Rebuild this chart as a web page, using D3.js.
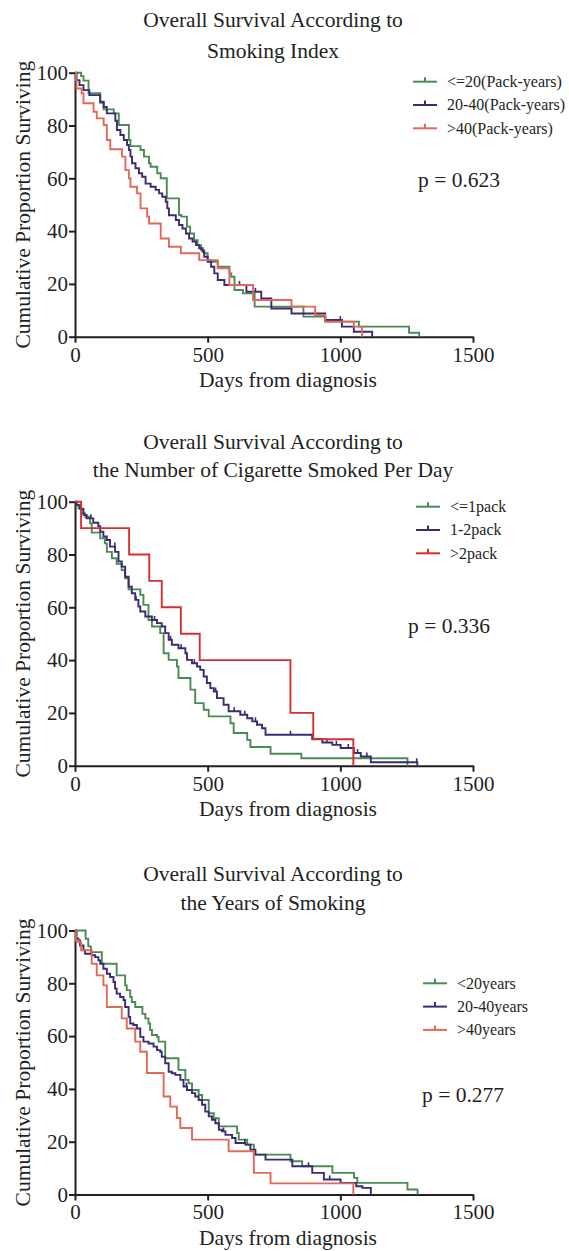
<!DOCTYPE html>
<html>
<head>
<meta charset="utf-8">
<script src="https://cdn.jsdelivr.net/npm/d3@7"></script>
<style>
body { margin: 0; background: #fff; }
text { font-family: "Liberation Serif", "Times New Roman", serif; fill: #231f20; }
</style>
</head>
<body>
<svg id="chart" width="569" height="1251"></svg>
<script>
// ticks
const xTicks = [0, 500, 1000, 1500];
const yTicks = [0, 20, 40, 60, 80, 100];

// panel 1: smoking index, [day, survival after drop]
const idxLow = [[23,98.7],[32,97],[51,92.2],[95,88.6],[108,86.1],[146,84.6],[165,80.2],[203,74.5],[209,72.2],[247,70.7],[260,68.2],[279,65.7],[285,64.4],[310,61.9],[323,60],[346,52.4],[392,46.1],[401,45.5],[422,41.7],[434,39.1],[449,36.6],[462,34.7],[475,32.8],[487,31.6],[500,29],[513,28.4],[538,26.5],[582,24],[589,22.7],[601,17.7],[633,16.4],[677,11.4],[861,7.6],[943,5.7],[1070,3.8],[1259,1.5],[1297,0]];
const idxMid = [[6,97.2],[17,95.3],[32,93.4],[54,91.5],[95,89],[108,87],[120,84.6],[152,81.8],[158,78.3],[171,76.4],[184,74.5],[196,72.6],[203,70.7],[209,68.2],[215,65.7],[228,63.8],[241,61.9],[253,60.6],[266,58],[285,56.8],[304,55.6],[317,54.3],[329,53],[342,51.1],[348,48.6],[354,46],[380,44.2],[392,42.3],[405,41],[418,39.1],[430,37.2],[443,36],[456,34.7],[468,33.5],[481,32.2],[487,30.3],[500,28.4],[513,26.5],[525,24],[538,21.5],[563,19.6],[646,17],[702,14.5],[740,10.7],[816,8.8],[943,6.3],[1006,3.8],[1051,1.9],[1120,0]];
const idxHigh = [[4,97.2],[6,94],[25,92.2],[32,88.4],[70,85.2],[82,82.7],[108,80.2],[120,74.5],[133,71],[177,68.2],[190,63.1],[203,60],[209,56.8],[234,54.3],[247,48.6],[272,45.5],[279,42.9],[323,37.2],[354,34.1],[399,31.6],[468,29],[538,25.9],[582,19.6],[671,13.9],[816,11.4],[905,8.2],[943,5.7],[1051,3.8],[1082,0]];
const idxMidCens = [620, 680, 1000];

// panel 2: cigarettes per day
const cigLow = [[6,98.7],[13,97.5],[25,95.6],[38,94.3],[57,91.8],[63,88.3],[95,86.1],[113,84.2],[120,81],[139,78.6],[157,76.5],[176,74.1],[189,71],[202,66.8],[246,64.7],[258,60.9],[277,55.2],[290,52.7],[321,50.2],[334,42.6],[353,40.1],[384,37.6],[390,33.2],[435,28.8],[453,23.7],[485,21.2],[504,18.7],[586,16.1],[598,12.4],[649,9.8],[661,7.1],[737,4.5],[853,2.8],[1253,0]];
const cigMid = [[6,98.7],[19,97.3],[32,95],[44,93.7],[69,92],[88,90.7],[95,88.6],[107,86.8],[120,85.5],[132,83],[151,81],[164,77.4],[176,75.4],[189,71.6],[202,67.8],[214,65.3],[227,62.8],[239,60.3],[246,58.4],[265,56.5],[290,55.2],[309,54],[327,52.7],[340,50.2],[353,47.7],[365,45.8],[390,44.5],[416,42.6],[422,40.1],[441,38.8],[460,37.6],[472,36.3],[485,33.8],[497,31.3],[510,29.4],[523,28.1],[535,25.6],[560,23.1],[579,20.6],[623,19.3],[649,18],[668,16.8],[686,15.5],[705,14.2],[718,11.7],[894,10.1],[932,8.8],[970,7.9],[1001,6.7],[1051,4.8],[1077,3.5],[1115,1.3],[1290,0]];
const cigHigh = [[23,90],[204,80],[280,70],[327,60],[399,50],[470,40],[812,20],[898,10],[1049,0]];
const cigMidCens = [60, 150, 230, 300, 360, 400, 450, 530, 600, 640, 680, 812, 950, 985, 1030, 1065, 1100, 1288];

// panel 3: years of smoking
const yrsLow = [[40,96.9],[50,94],[60,91.8],[101,87.4],[157,83],[189,79.2],[195,77.4],[208,74.8],[214,72.9],[227,71],[254,68.4],[265,66.7],[277,64.8],[283,62.3],[290,60.4],[309,59.7],[315,57.9],[340,51.6],[390,47.2],[416,43.4],[428,42.1],[441,39.6],[466,37.7],[479,35.8],[504,30.8],[523,28.9],[542,25.8],[611,23.3],[617,20.8],[649,18.9],[674,15.1],[812,12.6],[856,10.7],[970,8.2],[1052,6.3],[1064,4.4],[1253,1.9],[1291,0]];
const yrsMid = [[4,99.4],[6,96.9],[13,96.2],[19,94.3],[32,92.5],[38,91.2],[63,90.6],[76,89.9],[88,88.7],[95,87.4],[107,85.5],[120,83.6],[132,82.4],[145,80.5],[151,78],[157,76.1],[170,74.8],[183,73.6],[189,71],[202,67.3],[208,64.8],[220,64.2],[233,62.9],[246,59.7],[258,57.9],[277,57.2],[296,56],[309,54.7],[321,54.1],[327,52.2],[340,49.7],[353,46.5],[365,45.9],[378,45.3],[397,43.4],[409,40.9],[422,39.6],[441,38.4],[453,37.1],[466,35.8],[479,34],[491,31.4],[504,29.6],[516,28.3],[529,27],[542,24.5],[554,23.9],[567,22.6],[592,21.4],[605,19.5],[642,18.9],[661,17],[680,15.1],[718,13.2],[819,10.7],[894,8.2],[938,5.7],[1001,4.4],[1060,3.1],[1083,2.5],[1115,0]];
const yrsHigh = [[3,96.2],[13,95.6],[23,92.5],[63,87.4],[82,83],[107,79.2],[120,71],[176,66.7],[195,62.9],[227,57.9],[246,54.1],[271,46],[334,37.1],[359,33.3],[384,29],[397,25.2],[441,20.8],[579,16.4],[674,8.2],[737,4.2],[1049,0]];
const yrsMidCens = [420, 560, 640, 880, 960];

const green = "#4b8b52", purple = "#3b2b72", salmon = "#e2695a", red = "#d3302f";

const panels = [
  { top: 72.7, title: ["Overall Survival According to", "Smoking Index"], titleY: 27, titleGap: 31,
    series: [idxLow, idxMid, idxHigh], colors: [green, purple, salmon], cens: [[], idxMidCens, []],
    labels: ["<=20(Pack-years)", "20-40(Pack-years)", ">40(Pack-years)"],
    legX: 413, legY: 81.7, p: "p = 0.623", pX: 418, pY: 186.7 },
  { top: 501.7, title: ["Overall Survival According to", "the Number of Cigarette Smoked Per Day"], titleY: 448.5, titleGap: 28.5,
    series: [cigLow, cigMid, cigHigh], colors: [green, purple, red], cens: [[], cigMidCens, []],
    labels: ["<=1pack", "1-2pack", ">2pack"],
    legX: 416, legY: 506.7, p: "p = 0.336", pX: 408, pY: 633.3 },
  { top: 930.5, title: ["Overall Survival According to", "the Years of Smoking"], titleY: 880.7, titleGap: 29.5,
    series: [yrsLow, yrsMid, yrsHigh], colors: [green, purple, salmon], cens: [[], yrsMidCens, []],
    labels: ["<20years", "20-40years", ">40years"],
    legX: 423, legY: 983.3, p: "p = 0.277", pX: 422, pY: 1101.7 }
];

const plotH = 264;
const svg = d3.select("#chart");
svg.append("rect").attr("width", 569).attr("height", 1251).attr("fill", "#fff");

const x = d3.scaleLinear().domain([0, 1500]).range([75, 473]);

function survAt(curve, t) {
  let s = 100;
  for (const [d, v] of curve) if (d <= t) s = v;
  return s;
}

panels.forEach(p => {
  const bottom = p.top + plotH;
  const y = d3.scaleLinear().domain([0, 100]).range([bottom, p.top]);
  const g = svg.append("g");

  // titles
  p.title.forEach((t, i) => {
    g.append("text")
      .attr("x", 273).attr("y", p.titleY + i * p.titleGap)
      .attr("text-anchor", "middle")
      .style("font-size", "21.5px")
      .text(t);
  });

  // axes
  const xAxis = g.append("g")
    .attr("transform", `translate(0,${bottom})`)
    .call(d3.axisBottom(x).tickValues(xTicks).tickFormat(d3.format("d")).tickSize(6).tickSizeOuter(0).tickPadding(4));
  const yAxis = g.append("g")
    .attr("transform", `translate(75,0)`)
    .call(d3.axisLeft(y).tickValues(yTicks).tickFormat(d3.format("d")).tickSize(6).tickSizeOuter(0).tickPadding(1));
  [xAxis, yAxis].forEach(a => {
    a.attr("font-family", '"Liberation Serif", serif').attr("font-size", 21);
    a.select(".domain").attr("stroke", "#231f20").attr("stroke-width", 2);
    a.selectAll(".tick line").attr("stroke", "#231f20").attr("stroke-width", 2);
    a.selectAll(".tick text").style("font-size", "21px").attr("fill", "#231f20")
      .style("font-family", '"Liberation Serif", serif');
  });

  g.append("text")
    .attr("x", 288).attr("y", bottom + 50)
    .attr("text-anchor", "middle")
    .style("font-size", "21.5px")
    .text("Days from diagnosis");

  g.append("text")
    .attr("transform", `translate(30,${(p.top + bottom) / 2}) rotate(-90)`)
    .attr("text-anchor", "middle")
    .style("font-size", "21.5px")
    .text("Cumulative Proportion Surviving");

  // curves
  const line = d3.line().x(d => x(d[0])).y(d => y(d[1])).curve(d3.curveStepAfter);
  p.series.forEach((s, i) => {
    g.append("path")
      .datum([[0, 100]].concat(s))
      .attr("d", line)
      .attr("fill", "none")
      .attr("stroke", p.colors[i])
      .attr("stroke-width", 1.9);
    g.selectAll(null)
      .data(p.cens[i])
      .enter()
      .append("line")
      .attr("x1", d => x(d)).attr("x2", d => x(d))
      .attr("y1", d => y(survAt(s, d)))
      .attr("y2", d => y(survAt(s, d)) - 4)
      .attr("stroke", p.colors[i])
      .attr("stroke-width", 1.6);
  });

  // legend
  p.labels.forEach((lab, i) => {
    const ly = p.legY + i * 23.3;
    g.append("line")
      .attr("x1", p.legX).attr("x2", p.legX + 24)
      .attr("y1", ly).attr("y2", ly)
      .attr("stroke", p.colors[i]).attr("stroke-width", 2);
    g.append("line")
      .attr("x1", p.legX + 12).attr("x2", p.legX + 12)
      .attr("y1", ly).attr("y2", ly - 4.5)
      .attr("stroke", p.colors[i]).attr("stroke-width", 2);
    g.append("text")
      .attr("x", p.legX + 34).attr("y", ly)
      .attr("dy", "0.33em")
      .style("font-size", "16px")
      .text(lab);
  });

  g.append("text")
    .attr("x", p.pX).attr("y", p.pY)
    .style("font-size", "21.5px")
    .text(p.p);
});
</script>
</body>
</html>
